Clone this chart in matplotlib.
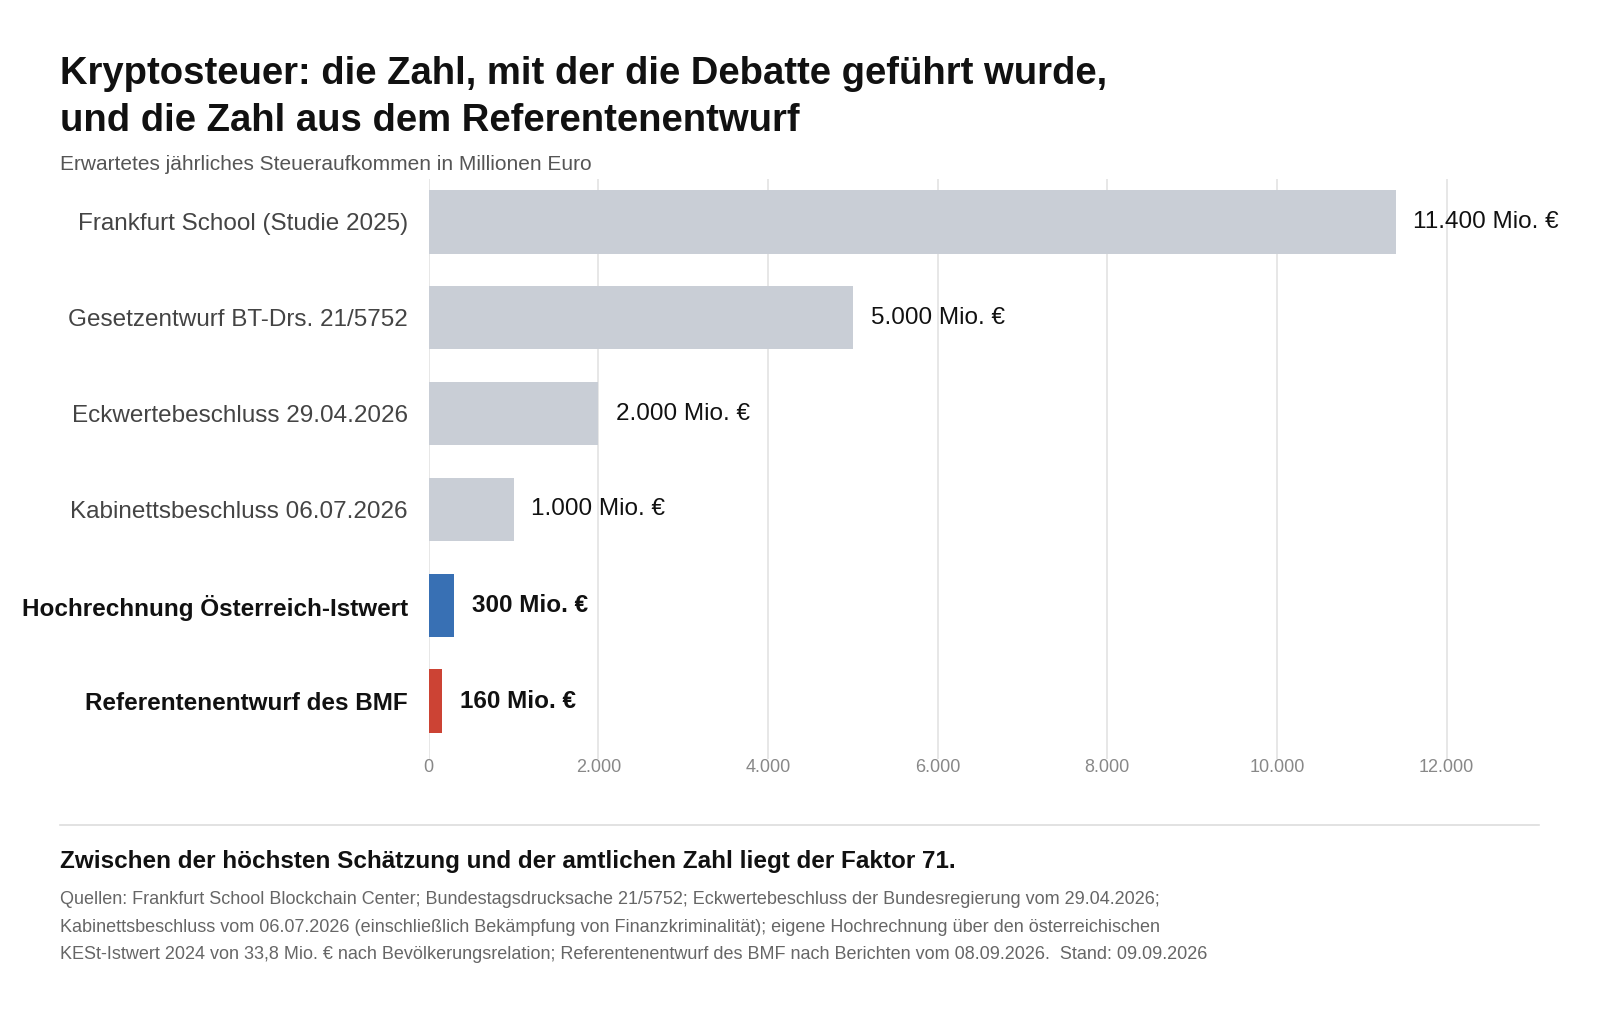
import matplotlib
matplotlib.use("Agg")
import matplotlib.pyplot as plt
from matplotlib.ticker import FuncFormatter

plt.rcParams['font.family'] = ['Liberation Sans', 'DejaVu Sans']

categories = ["Frankfurt School (Studie 2025)", "Gesetzentwurf BT-Drs. 21/5752",
              "Eckwertebeschluss 29.04.2026", "Kabinettsbeschluss 06.07.2026",
              "Hochrechnung Österreich-Istwert", "Referentenentwurf des BMF"]
values = [11400, 5000, 2000, 1000, 300, 160]
value_labels = ["11.400 Mio. €", "5.000 Mio. €", "2.000 Mio. €", "1.000 Mio. €",
                "300 Mio. €", "160 Mio. €"]
bold = [False, False, False, False, True, True]
colors = ["#c9ced6", "#c9ced6", "#c9ced6", "#c9ced6", "#3870b4", "#cc4334"]
xticks = [0, 2000, 4000, 6000, 8000, 10000, 12000]

fig = plt.figure(figsize=(16, 10.1), dpi=100)
ax = fig.add_axes([0.268, 0.249, 0.705, 0.574])
y = list(range(len(categories)))
ax.barh(y, values, color=colors, height=0.66, zorder=2)
ax.set_ylim(len(categories) - 0.4, -0.45)
ax.set_xlim(0, 13300)
for i, (v, lab, b) in enumerate(zip(values, value_labels, bold)):
    ax.text(v + 210, i, lab, va='center', ha='left', fontsize=17.5,
            fontweight='bold' if b else 'normal', color='#111111')
ax.set_yticks(y)
ax.set_yticklabels(categories, fontsize=17.5)
for t, b in zip(ax.get_yticklabels(), bold):
    t.set_color('#111111' if b else '#444444')
    if b:
        t.set_fontweight('bold')
ax.tick_params(axis='y', length=0, pad=15)
ax.set_xticks(xticks)
ax.xaxis.set_major_formatter(FuncFormatter(lambda x, p: f"{int(x):,}".replace(",", ".")))
ax.tick_params(axis='x', length=0, labelsize=13, labelcolor='#888888', pad=0)
ax.grid(axis='x', color='#e3e3e3', linewidth=1.2, zorder=0)
for s in ax.spines.values():
    s.set_visible(False)

fig.text(0.0375, 0.927, "Kryptosteuer: die Zahl, mit der die Debatte geführt wurde,",
         fontsize=27.5, fontweight='bold', color='#111111', va='center')
fig.text(0.0375, 0.880, "und die Zahl aus dem Referentenentwurf",
         fontsize=27.5, fontweight='bold', color='#111111', va='center')
fig.text(0.0375, 0.8375, "Erwartetes jährliches Steueraufkommen in Millionen Euro",
         fontsize=15, color='#555555', va='center')
fig.add_artist(plt.Line2D([0.0375, 0.962], [0.183, 0.183], color='#dddddd', lw=1.2))
fig.text(0.0375, 0.147, "Zwischen der höchsten Schätzung und der amtlichen Zahl liegt der Faktor 71.",
         fontsize=17.5, fontweight='bold', color='#111111', va='center')
src = ["Quellen: Frankfurt School Blockchain Center; Bundestagsdrucksache 21/5752; Eckwertebeschluss der Bundesregierung vom 29.04.2026;",
       "Kabinettsbeschluss vom 06.07.2026 (einschließlich Bekämpfung von Finanzkriminalität); eigene Hochrechnung über den österreichischen",
       "KESt-Istwert 2024 von 33,8 Mio. € nach Bevölkerungsrelation; Referentenentwurf des BMF nach Berichten vom 08.09.2026.  Stand: 09.09.2026"]
for k, line in enumerate(src):
    fig.text(0.0375, 0.109 - k * 0.027, line, fontsize=13, color='#666666', va='center')

fig.savefig("out.png", dpi=100, facecolor='white')
